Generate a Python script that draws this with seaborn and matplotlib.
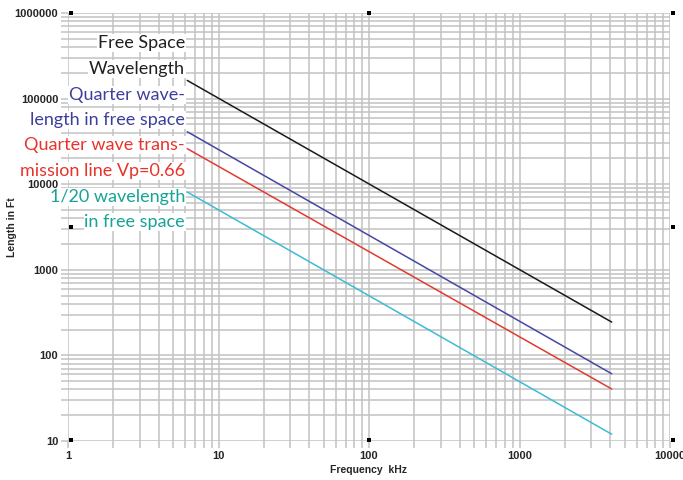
import matplotlib
matplotlib.use("Agg")
import matplotlib.pyplot as plt
import seaborn as sns
import pandas as pd

# Line end points (frequency in kHz, length in feet)
freq_khz = [6.2, 4100]
free_space = [163000, 245]
quarter_free = [41000, 61]
quarter_line = [26000, 40.5]
twentieth = [8100, 12]

series_names = ["Free Space Wavelength", "Quarter wavelength in free space",
                "Quarter wave transmission line Vp=0.66", "1/20 wavelength in free space"]
series_values = [free_space, quarter_free, quarter_line, twentieth]
line_colors = ["#1a1a1a", "#4646a6", "#e23a30", "#3cbcd4"]
label_colors = ["#231f20", "#3d3f9c", "#e8332b", "#17a396"]
label_lines = [["Free Space", "Wavelength"],
               ["Quarter wave-", "length in free space"],
               ["Quarter wave trans-", "mission line Vp=0.66"],
               ["1/20 wavelength", "in free space"]]

x_ticks = [1, 10, 100, 1000, 10000]
y_ticks = [10, 100, 1000, 10000, 100000, 1000000]

rows = []
for name, vals in zip(series_names, series_values):
    for f, v in zip(freq_khz, vals):
        rows.append({"series": name, "freq": f, "length": v})
df = pd.DataFrame(rows)

sns.set_style("white")
plt.rcParams["font.family"] = ["Liberation Sans", "DejaVu Sans"]
label_font = ["Lato", "DejaVu Sans"]

fig = plt.figure(figsize=(6.83, 4.80), dpi=100)
ax = fig.add_axes([68 / 683, 1 - 441 / 480, 602 / 683, 428 / 480])
ax.set_xscale("log")
ax.set_yscale("log")
ax.set_xlim(1, 10000)
ax.set_ylim(10, 1000000)

grid_c = "#c2c2c2"
ax.grid(True, which="both", color=grid_c, linewidth=1.1)
ax.set_axisbelow(True)
for s in ax.spines.values():
    s.set_visible(False)
ax.tick_params(which="both", direction="out", length=5, width=1.1, color=grid_c,
               bottom=True, left=True, top=False, right=False)
ax.tick_params(which="major", labelsize=8, pad=2)

ax.set_xticks(x_ticks)
ax.set_xticklabels([str(t) for t in x_ticks], fontweight="bold")
ax.set_yticks(y_ticks)
ax.set_yticklabels([str(t) for t in y_ticks], fontweight="bold")

sns.lineplot(data=df, x="freq", y="length", hue="series", hue_order=series_names,
             palette=line_colors, linewidth=1.1, legend=False, ax=ax)

# small black markers along the frame
mx = [1.05, 100, 10500, 1.05, 10500, 1.05, 100, 10500]
my = [1000000, 1000000, 1000000, 3200, 3200, 10.3, 10.3, 10.3]
ax.scatter(mx, my, marker="s", s=8, linewidths=0, color="black", zorder=5, clip_on=False)

ax.set_xlabel("Frequency  kHz", fontsize=7.5, fontweight="bold", labelpad=3)
ax.set_ylabel("Length in Ft", fontsize=7.5, fontweight="bold")
ax.yaxis.set_label_coords(-0.084, 0.5)

# series captions, each line on its own white box
baselines_px = [48, 74, 100, 125, 150, 176, 202, 227]
k = 0
for lines, col in zip(label_lines, label_colors):
    for txt in lines:
        yfrac = (441 - baselines_px[k]) / 428
        ax.text((185 - 68) / 602, yfrac, txt, transform=ax.transAxes, ha="right",
                va="baseline", fontsize=13, color=col, family=label_font,
                bbox=dict(facecolor="white", edgecolor="none", pad=0.5), zorder=6)
        k += 1

fig.savefig("out.png", dpi=100)
